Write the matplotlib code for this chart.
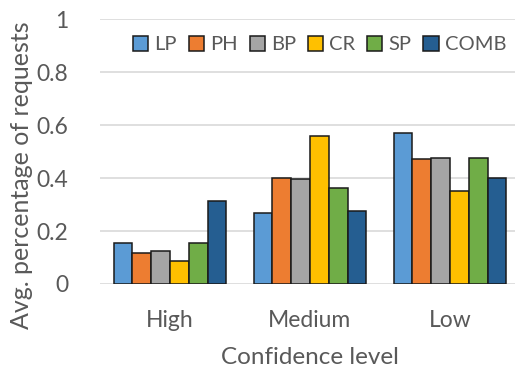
import numpy as np
import matplotlib
matplotlib.use("Agg")
import matplotlib.pyplot as plt
from matplotlib.patches import Patch

plt.rcParams['font.family'] = ['Lato', 'DejaVu Sans']

categories = ["High", "Medium", "Low"]
series_names = ["LP", "PH", "BP", "CR", "SP", "COMB"]
lp = [0.155, 0.268, 0.571]
ph = [0.117, 0.400, 0.470]
bp = [0.123, 0.395, 0.477]
cr = [0.085, 0.558, 0.351]
sp = [0.155, 0.362, 0.477]
comb = [0.313, 0.275, 0.400]
yticks = [0, 0.2, 0.4, 0.6, 0.8, 1]
ytick_labels = ["0", "0.2", "0.4", "0.6", "0.8", "1"]

colors = ["#5B9BD5", "#ED7D31", "#A5A5A5", "#FFC000", "#70AD47", "#255E91"]
text_color = "#595959"
fs = 16.5

W, H = 515, 374
fig = plt.figure(figsize=(W / 100, H / 100), dpi=100)
ax = fig.add_axes([100 / W, 1 - 284 / H, 415 / W, 265 / H])

values = [lp, ph, bp, cr, sp, comb]
x = np.arange(len(categories))
width = 0.134
for i, (name, vals) in enumerate(zip(series_names, values)):
    offs = (i - 2.5) * width
    ax.bar(x + offs, vals, width, color=colors[i], edgecolor="#1a1a1a",
           linewidth=1.1, zorder=3, label=name)

ax.set_xlim(-0.5, 2.5 - 5 / 140)
ax.set_ylim(0, 1)
ax.set_yticks(yticks)
ax.set_yticklabels(ytick_labels)
ax.set_xticks(x)
ax.set_xticklabels(categories)
ax.yaxis.grid(True, color="#D9D9D9", linewidth=1.2, zorder=0)
ax.set_axisbelow(True)
for s in ax.spines.values():
    s.set_visible(False)
ax.tick_params(axis="both", length=0, labelsize=fs, colors=text_color)
ax.tick_params(axis="y", pad=23)
ax.tick_params(axis="x", pad=19)

# axis titles
fig.text(310 / W, 1 - 358 / H, "Confidence level", fontsize=17.5,
         color=text_color, ha="center", va="center")
fig.text(22 / W, 1 - 175 / H, "Avg. percentage of requests", fontsize=18,
         color=text_color, ha="center", va="center", rotation=90)

handles = [Patch(facecolor=c, edgecolor="#1a1a1a", linewidth=1.1) for c in colors]
leg = ax.legend(handles, series_names, ncol=6, loc="center",
                bbox_to_anchor=((319.5 - 100) / 415, (284 - 44.5) / 265),
                frameon=False, fontsize=14.5,
                handlelength=0.75, handleheight=0.75, handletextpad=0.3,
                columnspacing=0.6, labelcolor=text_color)

fig.savefig("out.png", dpi=100)
